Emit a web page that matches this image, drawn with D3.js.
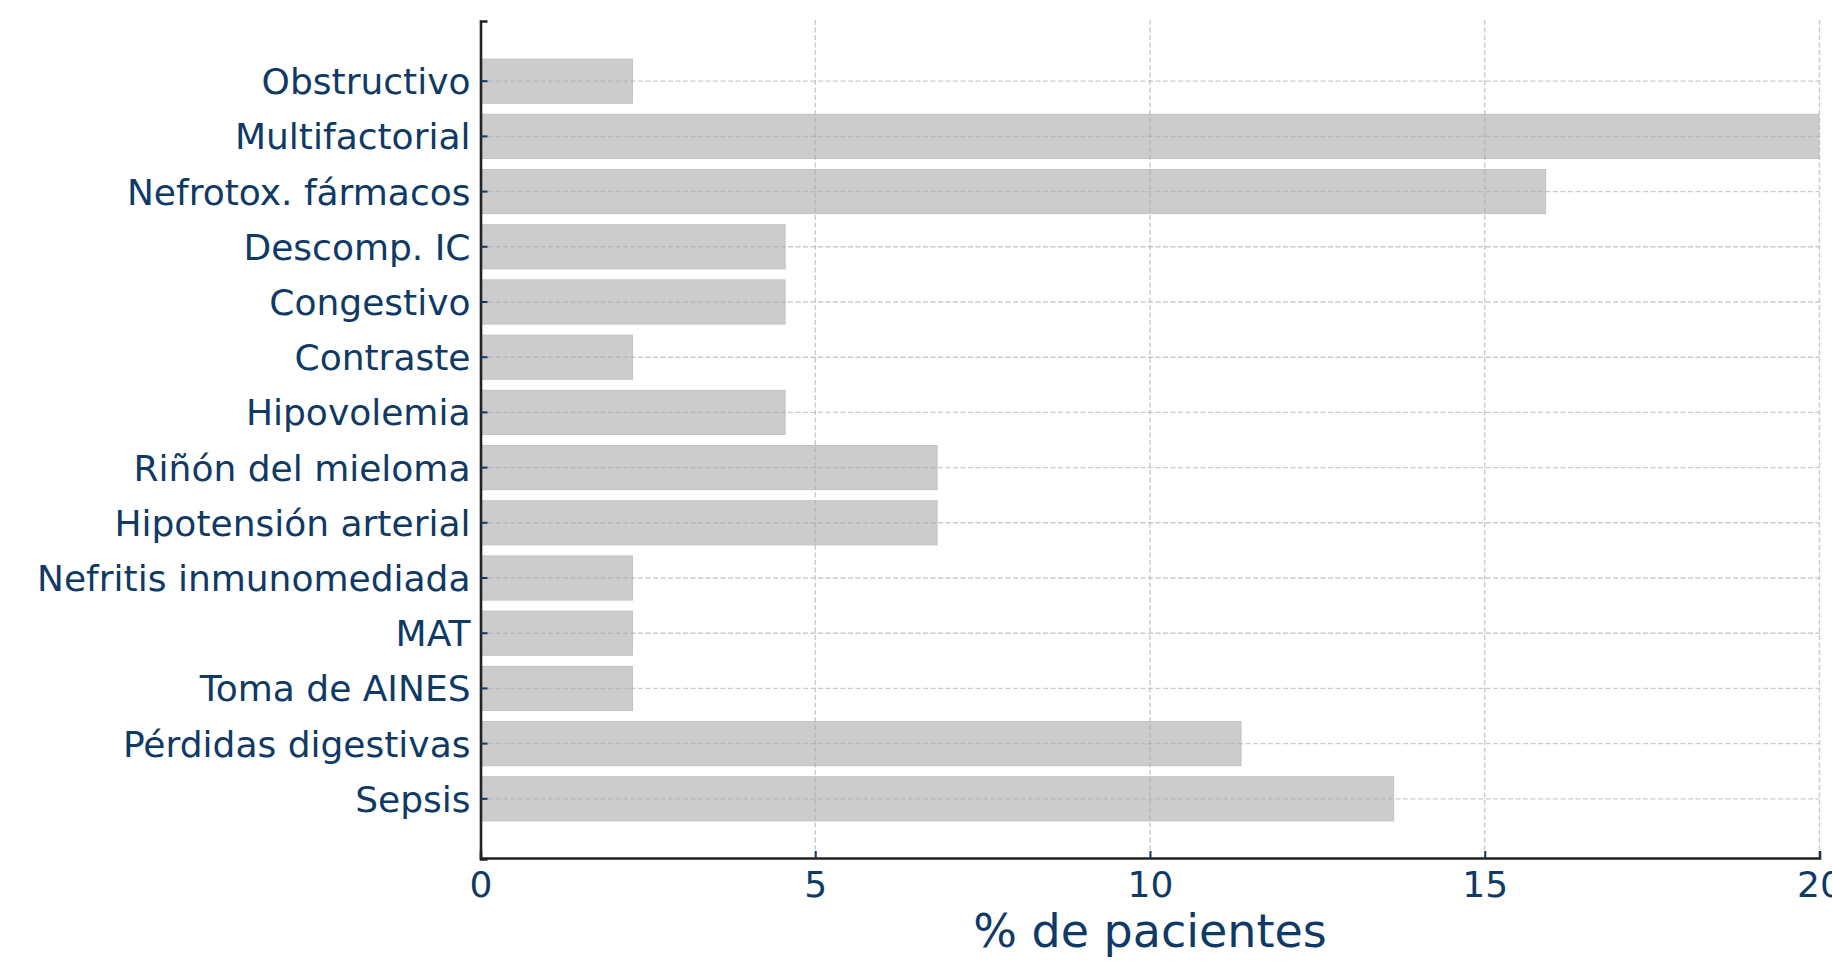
<!DOCTYPE html>
<html>
<head>
<meta charset="utf-8">
<script src="https://cdn.jsdelivr.net/npm/d3@7"></script>
<style>
    html, body { margin: 0; padding: 0; background: #ffffff; }
    svg { display: block; font-family: "DejaVu Sans", sans-serif; }
</style>
</head>
<body>
<div id="chart"></div>
<script>
// categories listed top to bottom, as in the picture
const categories = [
    'Obstructivo', 'Multifactorial', 'Nefrotox. fármacos', 'Descomp. IC',
    'Congestivo', 'Contraste', 'Hipovolemia', 'Riñón del mieloma',
    'Hipotensión arterial', 'Nefritis inmunomediada', 'MAT', 'Toma de AINES',
    'Pérdidas digestivas', 'Sepsis'
];
const percentages = [2.27, 20.45, 15.91, 4.55, 4.55, 2.27, 4.55, 6.82, 6.82, 2.27, 2.27, 2.27, 11.36, 13.64];
const xTicks = [0, 5, 10, 15, 20];
const xLabel = '% de pacientes';

const WIDTH = 1832, HEIGHT = 964;
const MARGIN = { top: 20, right: 12.5, bottom: 106, left: 480.5 };
const TEXT_COLOR = '#0f3a66';
const BAR_FILL = '#cccccc';

const svg = d3.select('#chart').append('svg')
    .attr('width', WIDTH)
    .attr('height', HEIGHT);

const x = d3.scaleLinear()
    .domain([0, 20])
    .range([MARGIN.left, WIDTH - MARGIN.right]);

// matplotlib-like: bar height 0.8, 5% data margin -> outer padding 0.69
const y = d3.scaleBand()
    .domain(categories)
    .range([MARGIN.top + 1, HEIGHT - MARGIN.bottom + 1])
    .paddingInner(0.2)
    .paddingOuter(0.69);

svg.append('clipPath').attr('id', 'plot-clip')
    .append('rect')
    .attr('x', x(0)).attr('y', MARGIN.top)
    .attr('width', x(20) - x(0)).attr('height', HEIGHT - MARGIN.bottom - MARGIN.top);

// bars
svg.append('g')
    .attr('clip-path', 'url(#plot-clip)')
    .selectAll('rect')
    .data(categories)
    .join('rect')
    .attr('x', x(0))
    .attr('y', d => y(d))
    .attr('width', (d, i) => x(percentages[i]) - x(0))
    .attr('height', y.bandwidth())
    .attr('fill', BAR_FILL)
    .attr('stroke', '#c2c2c2')
    .attr('stroke-width', 1);

// grid, drawn over the bars
const grid = svg.append('g')
    .attr('stroke', '#a8a8a8')
    .attr('stroke-opacity', 0.6)
    .attr('stroke-width', 1.4)
    .attr('stroke-dasharray', '5,2.5');

grid.selectAll('line.gx')
    .data(xTicks)
    .join('line')
    .attr('class', 'gx')
    .attr('x1', d => x(d)).attr('x2', d => x(d))
    .attr('y1', MARGIN.top).attr('y2', HEIGHT - MARGIN.bottom);

grid.selectAll('line.gy')
    .data(categories)
    .join('line')
    .attr('class', 'gy')
    .attr('x1', x(0)).attr('x2', x(20))
    .attr('y1', d => y(d) + y.bandwidth() / 2)
    .attr('y2', d => y(d) + y.bandwidth() / 2);

// x axis
const xAxis = svg.append('g')
    .attr('transform', `translate(0,${HEIGHT - MARGIN.bottom})`)
    .call(d3.axisBottom(x).tickValues(xTicks).tickSize(-7).tickPadding(13.5).tickFormat(d3.format('d')));
xAxis.select('.domain').attr('stroke', '#222222').attr('stroke-width', 2.6);
xAxis.selectAll('.tick line').attr('stroke', TEXT_COLOR).attr('stroke-width', 2);
xAxis.selectAll('.tick text')
    .attr('fill', TEXT_COLOR)
    .attr('font-size', 36)
    .attr('font-family', '"DejaVu Sans", sans-serif');

// y axis
const yAxis = svg.append('g')
    .attr('transform', `translate(${MARGIN.left},0)`)
    .call(d3.axisLeft(y).tickSize(-7).tickPadding(10));
yAxis.select('.domain').attr('stroke', '#222222').attr('stroke-width', 2.6);
yAxis.selectAll('.tick line').attr('stroke', TEXT_COLOR).attr('stroke-width', 2);
yAxis.selectAll('.tick text')
    .attr('fill', TEXT_COLOR)
    .attr('dy', '0.36em')
    .attr('font-size', 36)
    .attr('font-family', '"DejaVu Sans", sans-serif');

// axis title
svg.append('text')
    .attr('x', (x(0) + x(20)) / 2)
    .attr('y', 947)
    .attr('text-anchor', 'middle')
    .attr('fill', TEXT_COLOR)
    .attr('font-size', 46)
    .text(xLabel);
</script>
</body>
</html>
